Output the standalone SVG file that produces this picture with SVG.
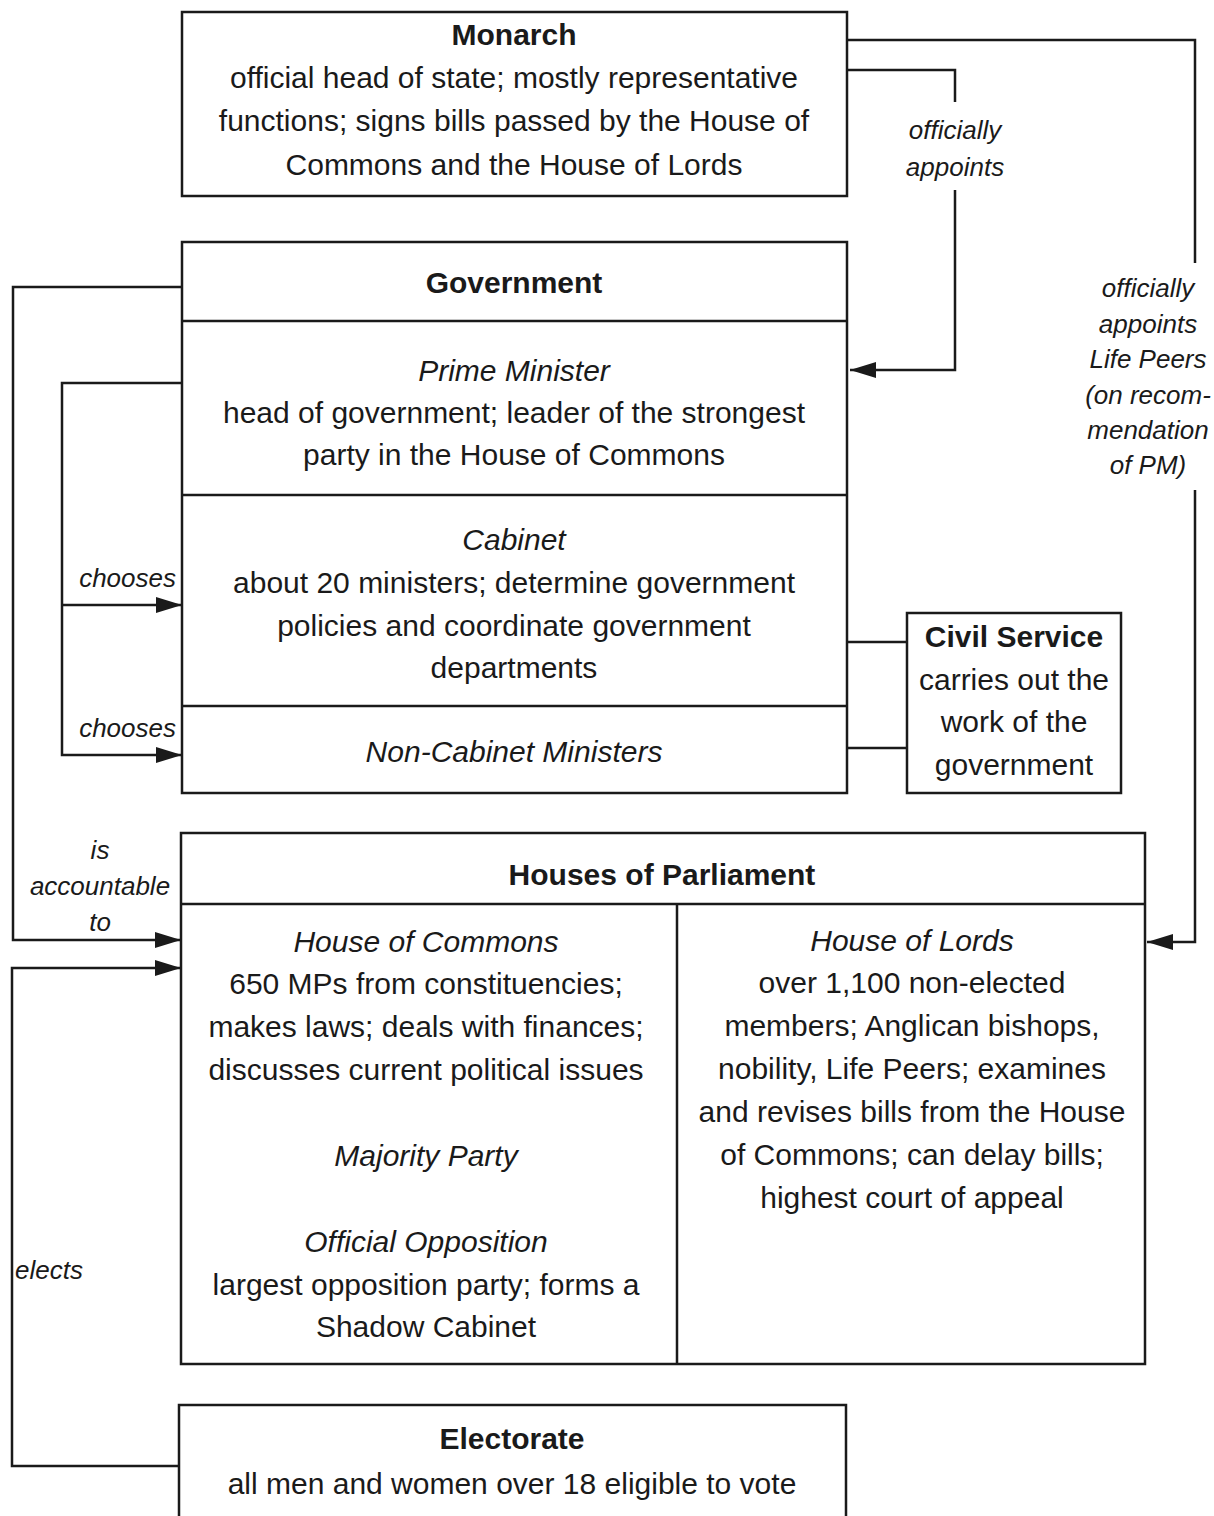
<svg xmlns="http://www.w3.org/2000/svg" width="1214" height="1516" viewBox="0 0 1214 1516">
<style>
.box{fill:#fff;stroke:#1a1a1a;stroke-width:2.5}
.ln{fill:none;stroke:#1a1a1a;stroke-width:2.5}
text{font-family:"Liberation Sans",Arial,sans-serif;font-size:30px;fill:#1a1a1a;text-anchor:middle;dominant-baseline:central}
.b{font-weight:bold}
.i{font-style:italic}
.lb{font-style:italic;font-size:26px}
</style>
<defs>
<marker id="ah" viewBox="0 0 26 18" refX="26" refY="9" markerWidth="26" markerHeight="18" markerUnits="userSpaceOnUse" orient="auto">
<path d="M0,1 L26,9 L0,17 Z" fill="#1a1a1a"/>
</marker>
</defs>
<rect width="1214" height="1516" fill="#fff"/>
<g id="connectors">
<polyline class="ln" points="847,40 1195,40 1195,263"/>
<polyline class="ln" points="1195,490 1195,942 1147,942" marker-end="url(#ah)"/>
<polyline class="ln" points="847,70 955,70 955,102"/>
<polyline class="ln" points="955,190 955,370 850,370" marker-end="url(#ah)"/>
<polyline class="ln" points="182,287 13,287 13,940 181,940" marker-end="url(#ah)"/>
<polyline class="ln" points="182,383 62,383 62,755 182,755" marker-end="url(#ah)"/>
<polyline class="ln" points="62,605 182,605" marker-end="url(#ah)"/>
<polyline class="ln" points="179,1466 12,1466 12,968 181,968" marker-end="url(#ah)"/>
<line class="ln" x1="847" y1="642" x2="907" y2="642"/>
<line class="ln" x1="847" y1="748" x2="907" y2="748"/>
<text class="lb" x="955" y="130">officially</text>
<text class="lb" x="955" y="167">appoints</text>
<text class="lb" x="1148" y="288">officially</text>
<text class="lb" x="1148" y="324">appoints</text>
<text class="lb" x="1148" y="359">Life Peers</text>
<text class="lb" x="1148" y="395">(on recom-</text>
<text class="lb" x="1148" y="430">mendation</text>
<text class="lb" x="1148" y="465">of PM)</text>
<text class="lb" x="176" y="578" style="text-anchor:end">chooses</text>
<text class="lb" x="176" y="728" style="text-anchor:end">chooses</text>
<text class="lb" x="100" y="850">is</text>
<text class="lb" x="100" y="886">accountable</text>
<text class="lb" x="100" y="922">to</text>
<text class="lb" x="15" y="1270" style="text-anchor:start">elects</text>
</g>
<g id="monarch">
<rect class="box" x="182" y="12" width="665" height="184"/>
<text class="b" x="514" y="34">Monarch</text>
<text x="514" y="77">official head of state; mostly representative</text>
<text x="514" y="120">functions; signs bills passed by the House of</text>
<text x="514" y="164">Commons and the House of Lords</text>
</g>
<g id="government">
<rect class="box" x="182" y="242" width="665" height="551"/>
<line class="ln" x1="182" y1="321" x2="847" y2="321"/>
<line class="ln" x1="182" y1="495" x2="847" y2="495"/>
<line class="ln" x1="182" y1="706" x2="847" y2="706"/>
<text class="b" x="514" y="282">Government</text>
<text class="i" x="514" y="370">Prime Minister</text>
<text x="514" y="412">head of government; leader of the strongest</text>
<text x="514" y="454">party in the House of Commons</text>
<text class="i" x="514" y="539">Cabinet</text>
<text x="514" y="582">about 20 ministers; determine government</text>
<text x="514" y="625">policies and coordinate government</text>
<text x="514" y="667">departments</text>
<text class="i" x="514" y="751">Non-Cabinet Ministers</text>
</g>
<g id="civil-service">
<rect class="box" x="907" y="613" width="214" height="180"/>
<text class="b" x="1014" y="636">Civil Service</text>
<text x="1014" y="679">carries out the</text>
<text x="1014" y="721">work of the</text>
<text x="1014" y="764">government</text>
</g>
<g id="parliament">
<rect class="box" x="181" y="833" width="964" height="531"/>
<line class="ln" x1="181" y1="904" x2="1145" y2="904"/>
<line class="ln" x1="677" y1="904" x2="677" y2="1364"/>
<text class="b" x="662" y="874">Houses of Parliament</text>
<text class="i" x="426" y="941">House of Commons</text>
<text x="426" y="983">650 MPs from constituencies;</text>
<text x="426" y="1026">makes laws; deals with finances;</text>
<text x="426" y="1069">discusses current political issues</text>
<text class="i" x="426" y="1155">Majority Party</text>
<text class="i" x="426" y="1241">Official Opposition</text>
<text x="426" y="1284">largest opposition party; forms a</text>
<text x="426" y="1326">Shadow Cabinet</text>
<text class="i" x="912" y="940">House of Lords</text>
<text x="912" y="982">over 1,100 non-elected</text>
<text x="912" y="1025">members; Anglican bishops,</text>
<text x="912" y="1068">nobility, Life Peers; examines</text>
<text x="912" y="1111">and revises bills from the House</text>
<text x="912" y="1154">of Commons; can delay bills;</text>
<text x="912" y="1197">highest court of appeal</text>
</g>
<g id="electorate">
<path class="ln" d="M179,1530 L179,1405 L846,1405 L846,1530"/>
<text class="b" x="512" y="1438">Electorate</text>
<text x="512" y="1483">all men and women over 18 eligible to vote</text>
</g>
</svg>
